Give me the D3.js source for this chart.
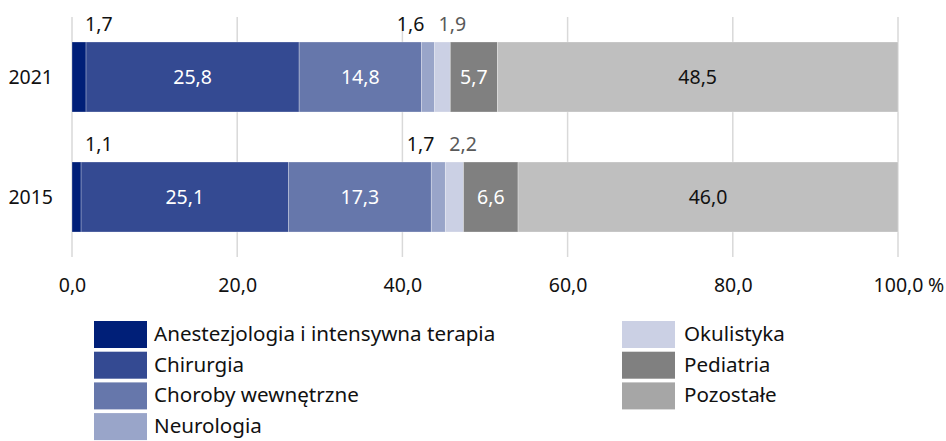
<!DOCTYPE html>
<html lang="pl">
<head>
<meta charset="utf-8">
<script src="https://d3js.org/d3.v7.min.js"></script>
<style>
  body { margin: 0; background: #fff; }
  text { font-family: "Noto Sans", "Open Sans", sans-serif; }
</style>
</head>
<body>
<script>
const w = 946, h = 441;

// data
const years = ["2021", "2015"];
const specialties = ["Anestezjologia i intensywna terapia", "Chirurgia", "Choroby wewnętrzne",
                     "Neurologia", "Okulistyka", "Pediatria", "Pozostałe"];
const values2021 = [1.7, 25.8, 14.8, 1.6, 1.9, 5.7, 48.5];
const values2015 = [1.1, 25.1, 17.3, 1.7, 2.2, 6.6, 46.0];
const xTicks = [0, 20, 40, 60, 80, 100];

const barColors = ["#001f78", "#344a92", "#6677ab", "#99a5c9", "#cbd0e4", "#808080", "#bfbfbf"];
const legendColors = ["#001f78", "#344a92", "#6677ab", "#99a5c9", "#cbd0e4", "#808080", "#a6a6a6"];
const labelInside = [false, true, true, false, false, true, true];
const labelColor = ["#111", "#fff", "#fff", "#111", "#595959", "#fff", "#111"];

const fmt = v => v.toFixed(1).replace(".", ",");

const svg = d3.select("body").append("svg")
    .attr("width", w)
    .attr("height", h);

const x = d3.scaleLinear().domain([0, 100]).range([72, 898]);
const y = d3.scaleBand().domain(years).range([17, 257])
    .paddingInner(0.4167).paddingOuter(0.2083);

// gridlines
svg.append("g").selectAll("line")
    .data(xTicks).join("line")
    .attr("x1", d => x(d)).attr("x2", d => x(d))
    .attr("y1", 17).attr("y2", 257)
    .attr("stroke", "#d9d9d9")
    .attr("stroke-width", 1.5);

// x axis labels
const xAxis = d3.axisBottom(x).tickValues(xTicks).tickFormat(fmt).tickSize(0).tickPadding(0);
const gx = svg.append("g").attr("transform", "translate(0,278)").call(xAxis);
gx.select(".domain").remove();
gx.selectAll("text").attr("font-size", "19.5px").attr("fill", "#111")
    .attr("font-family", "Noto Sans").attr("dy", "0.7em");
svg.append("text")
    .attr("x", x(100) + 30).attr("y", 292)
    .attr("font-size", "19.5px").attr("fill", "#111")
    .text("%");

// year labels
svg.append("g").selectAll("text")
    .data(years).join("text")
    .attr("x", 53)
    .attr("y", d => y(d) + y.bandwidth() / 2)
    .attr("dy", "0.35em")
    .attr("text-anchor", "end")
    .attr("font-size", "19.5px")
    .attr("fill", "#111")
    .text(d => d);

// stacked bars
const rows = [values2021, values2015].map((vals, r) => {
    let acc = 0;
    return vals.map((v, i) => {
        const seg = { year: years[r], i: i, v: v, x0: acc, x1: acc + v };
        acc += v;
        return seg;
    });
});

rows.forEach(segs => {
    const g = svg.append("g");
    g.selectAll("rect")
        .data(segs).join("rect")
        .attr("x", d => x(d.x0))
        .attr("width", d => x(d.x1) - x(d.x0))
        .attr("y", d => y(d.year))
        .attr("height", y.bandwidth())
        .attr("fill", d => barColors[d.i])
        .attr("stroke", "#fff")
        .attr("stroke-opacity", 0.35)
        .attr("stroke-width", 0.8);

    // inside labels
    g.selectAll("text.inside")
        .data(segs.filter(d => labelInside[d.i])).join("text")
        .attr("class", "inside")
        .attr("x", d => (x(d.x0) + x(d.x1)) / 2)
        .attr("y", d => y(d.year) + y.bandwidth() / 2)
        .attr("dy", "0.35em")
        .attr("text-anchor", "middle")
        .attr("font-size", "19.5px")
        .attr("fill", d => labelColor[d.i])
        .text(d => fmt(d.v));

    // labels above the small segments
    g.selectAll("text.above")
        .data(segs.filter(d => !labelInside[d.i])).join("text")
        .attr("class", "above")
        .attr("x", d => d.i === 0 ? x(0) + 13 : d.i === 3 ? x(d.x0) + 3 : x(d.x0) + 4)
        .attr("y", d => y(d.year) - 11)
        .attr("text-anchor", d => d.i === 3 ? "end" : "start")
        .attr("font-size", "19.5px")
        .attr("fill", d => labelColor[d.i])
        .text(d => fmt(d.v));
});

// legend
const legendPos = specialties.map((s, i) => ({
    name: s,
    i: i,
    lx: i < 4 ? 94 : 622,
    tx: i < 4 ? 154 : 684,
    ly: 321 + (i < 4 ? i : i - 4) * 30.7
}));

const lg = svg.append("g");
lg.selectAll("rect")
    .data(legendPos).join("rect")
    .attr("x", d => d.lx).attr("y", d => d.ly)
    .attr("width", 53).attr("height", 27)
    .attr("fill", d => legendColors[d.i]);
lg.selectAll("text")
    .data(legendPos).join("text")
    .attr("x", d => d.tx).attr("y", d => d.ly + 20)
    .attr("font-size", "20.6px")
    .attr("fill", "#111")
    .text(d => d.name);
</script>
</body>
</html>
